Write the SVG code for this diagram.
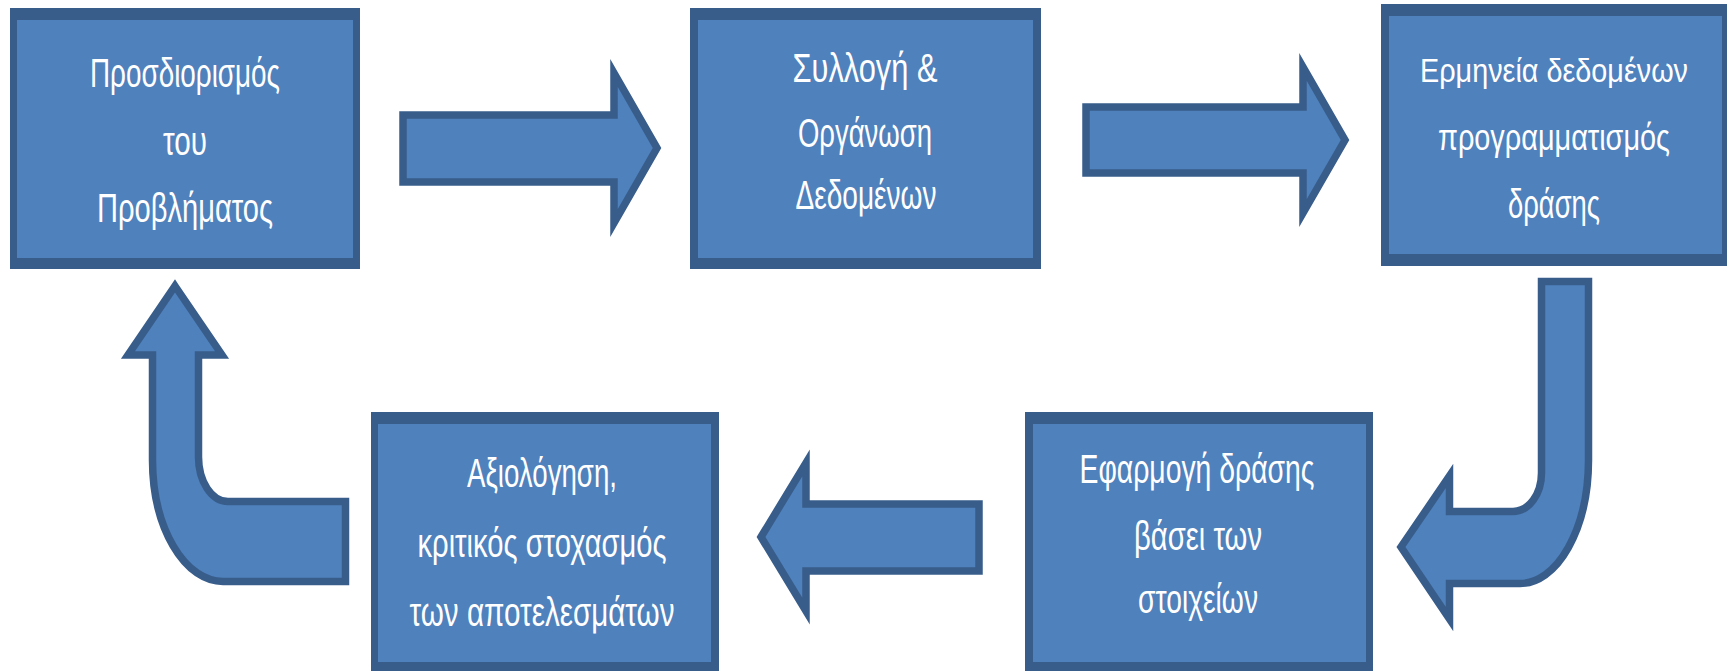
<svg xmlns="http://www.w3.org/2000/svg" width="1727" height="671" viewBox="0 0 1727 671">
<style>
.border{fill:#385D8A}
.fill{fill:#4F81BD}
.arrow{fill:#4F81BD;stroke:#385D8A;stroke-width:7.5;stroke-linejoin:miter}
text{font-family:"Liberation Sans Narrow","Liberation Sans",Arial,sans-serif;font-size:40px;fill:#FFFFFF;text-anchor:middle}
text.long{font-size:36px}
text.longest{font-size:33px}
</style>
<rect x="0" y="0" width="1727" height="671" fill="#FFFFFF"/>
<g id="connectors">
<path class="arrow" d="M403,115 L614,115 L614,73 L657,148 L614,223 L614,182 L403,182 Z"/>
<path class="arrow" d="M1086,107 L1303,107 L1303,67 L1345,140 L1303,213 L1303,173 L1086,173 Z"/>
<path class="arrow" d="M761,537 L806,463 L806,504 L979,504 L979,571 L806,571 L806,611 Z"/>
<path class="arrow" d="M1541.5,281.5 L1588.5,281.5 L1588.5,460 A68.5,123.5 0 0 1 1520,583.5 L1449.5,583.5 L1449.5,619 L1401,547 L1449.5,476 L1449.5,511.5 L1513,511.5 A28.5,38.5 0 0 0 1541.5,473 Z"/>
<path class="arrow" d="M175,286 L222,355 L198.5,355 L198.5,457 A29.5,44.5 0 0 0 228,501.5 L345.5,501.5 L345.5,581.5 L223,581.5 A70.5,121.5 0 0 1 152.5,460 L152.5,355 L128,355 Z"/>
</g>
<g id="node1">
<rect class="border" x="10" y="8" width="350" height="261"/>
<rect class="fill" x="17" y="20" width="336" height="238"/>
<text x="185" y="87" textLength="190" lengthAdjust="spacingAndGlyphs">Προσδιορισμός</text>
<text x="185" y="155" textLength="44" lengthAdjust="spacingAndGlyphs">του</text>
<text x="185" y="222" textLength="176" lengthAdjust="spacingAndGlyphs">Προβλήματος</text>
</g>
<g id="node2">
<rect class="border" x="690" y="8" width="351" height="261"/>
<rect class="fill" x="698" y="20" width="335" height="238"/>
<text x="865" y="82" textLength="145" lengthAdjust="spacingAndGlyphs">Συλλογή &amp;</text>
<text x="865" y="147" textLength="134" lengthAdjust="spacingAndGlyphs">Οργάνωση</text>
<text x="866" y="209" textLength="141" lengthAdjust="spacingAndGlyphs">Δεδομένων</text>
</g>
<g id="node3">
<rect class="border" x="1381" y="4" width="346" height="262"/>
<rect class="fill" x="1389" y="16" width="333" height="238"/>
<text class="longest" x="1554" y="82" textLength="268" lengthAdjust="spacingAndGlyphs">Ερμηνεία δεδομένων</text>
<text class="long" x="1554" y="150" textLength="232" lengthAdjust="spacingAndGlyphs">προγραμματισμός</text>
<text x="1554" y="218" textLength="92" lengthAdjust="spacingAndGlyphs">δράσης</text>
</g>
<g id="node4">
<rect class="border" x="1025" y="412" width="348" height="259"/>
<rect class="fill" x="1033" y="424" width="333" height="238"/>
<text x="1197" y="483" textLength="235" lengthAdjust="spacingAndGlyphs">Εφαρμογή δράσης</text>
<text x="1198" y="550" textLength="128" lengthAdjust="spacingAndGlyphs">βάσει των</text>
<text x="1198" y="613" textLength="120" lengthAdjust="spacingAndGlyphs">στοιχείων</text>
</g>
<g id="node5">
<rect class="border" x="371" y="412" width="348" height="259"/>
<rect class="fill" x="378" y="424" width="333" height="238"/>
<text x="542" y="487" textLength="150" lengthAdjust="spacingAndGlyphs">Αξιολόγηση,</text>
<text x="542" y="557" textLength="249" lengthAdjust="spacingAndGlyphs">κριτικός στοχασμός</text>
<text x="542" y="626" textLength="265" lengthAdjust="spacingAndGlyphs">των αποτελεσμάτων</text>
</g>
</svg>
